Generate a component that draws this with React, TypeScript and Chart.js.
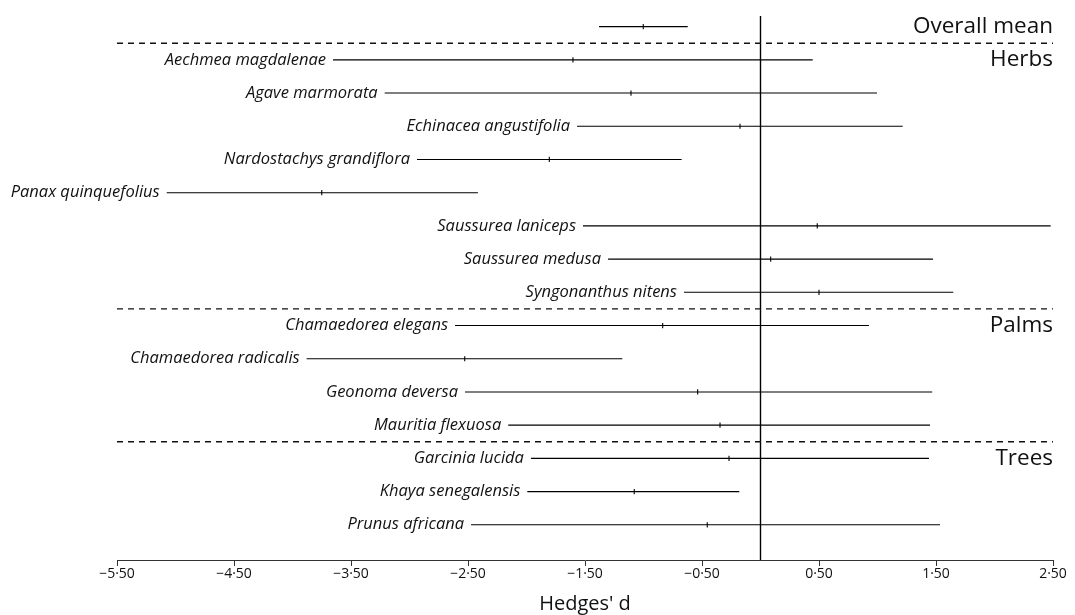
import { useEffect, useRef } from 'react';
import { Chart, registerables } from 'chart.js';

Chart.register(...registerables);

// Row 0 is the overall mean; rows 1..15 are species.
const ROW_LABELS = [
  '',
  'Aechmea magdalenae',
  'Agave marmorata',
  'Echinacea angustifolia',
  'Nardostachys grandiflora',
  'Panax quinquefolius',
  'Saussurea laniceps',
  'Saussurea medusa',
  'Syngonanthus nitens',
  'Chamaedorea elegans',
  'Chamaedorea radicalis',
  'Geonoma deversa',
  'Mauritia flexuosa',
  'Garcinia lucida',
  'Khaya senegalensis',
  'Prunus africana',
];
const LOWER = [-1.38, -3.654, -3.212, -1.568, -2.936, -5.075, -1.517, -1.303, -0.654, -2.611, -3.879, -2.526, -2.156, -1.962, -1.993, -2.474];
const MEAN = [-1.002, -1.603, -1.107, -0.175, -1.805, -3.75, 0.485, 0.087, 0.5, -0.836, -2.528, -0.537, -0.346, -0.269, -1.079, -0.455];
const UPPER = [-0.622, 0.446, 0.996, 1.215, -0.674, -2.415, 2.48, 1.474, 1.648, 0.927, -1.181, 1.468, 1.449, 1.44, -0.181, 1.534];

const GROUP_LABELS = ['Overall mean', 'Herbs', 'Palms', 'Trees'];
const GROUP_ROWS = [0, 1, 9, 13];
const SEPARATOR_ROWS = [0.5, 8.5, 12.5];

const X_TICKS = [-5.5, -4.5, -3.5, -2.5, -1.5, -0.5, 0.5, 1.5, 2.5];
const X_MIN = -5.5;
const X_MAX = 2.5;
const Y_MIN = -0.32;
const Y_MAX = 16.06;

const FONT = '"Open Sans", "DejaVu Sans", sans-serif';

const fmtTick = (v: number) =>
  (v < 0 ? '\u2212' : '') + Math.abs(v).toFixed(2).replace('.', '\u00B7');

const labelPlugin = {
  id: 'forestLabels',
  afterDatasetsDraw(chart: any) {
    const { ctx, scales, chartArea } = chart;
    const x = scales.x;
    const y = scales.y;
    ctx.save();
    ctx.fillStyle = '#111';
    ctx.textBaseline = 'middle';
    ctx.textAlign = 'right';
    ctx.font = `italic 16.5px ${FONT}`;
    ROW_LABELS.forEach((t, i) => {
      if (!t) return;
      ctx.fillText(t, x.getPixelForValue(LOWER[i]) - 7, y.getPixelForValue(i));
    });
    ctx.font = `22.5px ${FONT}`;
    GROUP_LABELS.forEach((t, k) => {
      ctx.fillText(t, chartArea.right, y.getPixelForValue(GROUP_ROWS[k]));
    });
    ctx.restore();
  },
};

export default function App() {
  const canvasRef = useRef<HTMLCanvasElement | null>(null);

  useEffect(() => {
    if (!canvasRef.current) return;

    const ciSets = ROW_LABELS.map((_, i) => ({
      data: [
        { x: LOWER[i], y: i },
        { x: UPPER[i], y: i },
      ],
      showLine: true,
      borderColor: '#000',
      borderWidth: 1.1,
      pointRadius: 0,
    }));

    const sepSets = SEPARATOR_ROWS.map((r) => ({
      data: [
        { x: X_MIN, y: r },
        { x: X_MAX, y: r },
      ],
      showLine: true,
      borderColor: '#111',
      borderWidth: 1.4,
      borderDash: [6, 5],
      pointRadius: 0,
    }));

    const zeroSet = {
      data: [
        { x: 0, y: Y_MIN },
        { x: 0, y: Y_MAX },
      ],
      showLine: true,
      borderColor: '#000',
      borderWidth: 1.4,
      pointRadius: 0,
    };

    const meanSet = {
      data: MEAN.map((m, i) => ({ x: m, y: i })),
      showLine: false,
      pointStyle: 'line',
      rotation: 90,
      pointRadius: 2.6,
      borderWidth: 1.1,
      borderColor: '#000',
      backgroundColor: '#000',
    };

    const chart = new Chart(canvasRef.current, {
      type: 'scatter',
      data: { datasets: [...sepSets, zeroSet, ...ciSets, meanSet] as any },
      options: {
        animation: false,
        responsive: true,
        maintainAspectRatio: false,
        layout: { padding: { left: 117, right: 22, top: 16, bottom: 0 } },
        plugins: { legend: { display: false }, tooltip: { enabled: false } },
        scales: {
          x: {
            type: 'linear',
            min: X_MIN,
            max: X_MAX,
            afterBuildTicks: (scale: any) => {
              scale.ticks = X_TICKS.map((v) => ({ value: v }));
            },
            afterFit: (scale: any) => {
              scale.height = 55;
            },
            grid: {
              drawOnChartArea: false,
              drawTicks: true,
              tickLength: 6,
              color: '#333',
            },
            border: { display: true, color: '#333', width: 1 },
            ticks: {
              padding: 0,
              color: '#111',
              font: { family: FONT, size: 14 },
              maxRotation: 0,
              autoSkip: false,
              callback: (v: any) => fmtTick(Number(v)),
            },
            title: {
              display: true,
              text: "Hedges' d",
              color: '#111',
              font: { family: FONT, size: 20, lineHeight: 1.1 },
              padding: { top: 0, bottom: 0 },
            },
          },
          y: {
            type: 'linear',
            display: false,
            reverse: true,
            min: Y_MIN,
            max: Y_MAX,
          },
        },
      },
      plugins: [labelPlugin],
    });

    if ((document as any).fonts && (document as any).fonts.load) {
      Promise.all([
        (document as any).fonts.load(`italic 16.5px "Open Sans"`),
        (document as any).fonts.load(`22.5px "Open Sans"`),
      ]).then(() => chart.update()).catch(() => {});
    }

    return () => chart.destroy();
  }, []);

  return (
    <div style={{ position: 'absolute', left: 0, top: 0, width: 1075, height: 615, background: '#fff' }}>
      <canvas ref={canvasRef} />
    </div>
  );
}
